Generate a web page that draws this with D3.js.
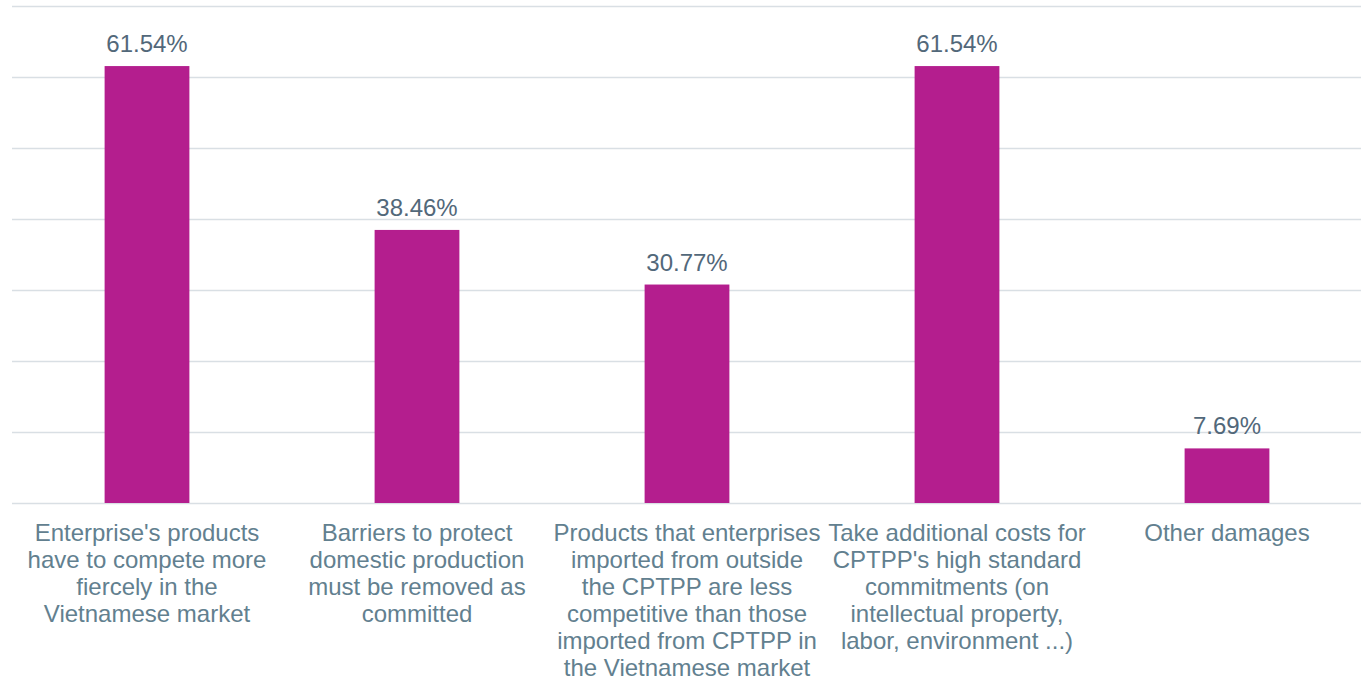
<!DOCTYPE html>
<html>
<head>
<meta charset="utf-8">
<script src="https://cdn.jsdelivr.net/npm/d3@7"></script>
<style>
  html, body { margin: 0; padding: 0; background: #ffffff; }
  svg { display: block; }
  text { font-family: "Liberation Sans", Arial, sans-serif; }
</style>
</head>
<body>
<svg id="chart" width="1361" height="682"></svg>
<script>
// Category labels, broken into display lines
const categories = [
  ["Enterprise's products", "have to compete more", "fiercely in the", "Vietnamese market"],
  ["Barriers to protect", "domestic production", "must be removed as", "committed"],
  ["Products that enterprises", "imported from outside", "the CPTPP are less", "competitive than those", "imported from CPTPP in", "the Vietnamese market"],
  ["Take additional costs for", "CPTPP's high standard", "commitments (on", "intellectual property,", "labor, environment ...)"],
  ["Other damages"]
];
const values = [61.54, 38.46, 30.77, 61.54, 7.69];
const gridTicks = [0, 10, 20, 30, 40, 50, 60, 70];

(function () {
  const svg = d3.select("#chart");
  const plotLeft = 12, plotRight = 1362, plotTop = 6, plotBottom = 503;

  const x = d3.scaleBand()
    .domain(d3.range(values.length))
    .range([plotLeft, plotRight])
    .paddingInner(0.686)
    .paddingOuter(0.343);

  const y = d3.scaleLinear().domain([0, 70]).range([plotBottom, plotTop]);

  // Horizontal gridlines
  svg.append("g")
    .selectAll("line")
    .data(gridTicks)
    .join("line")
    .attr("x1", plotLeft)
    .attr("x2", 1361)
    .attr("y1", d => Math.round(y(d)) + 0.5)
    .attr("y2", d => Math.round(y(d)) + 0.5)
    .attr("stroke", "#d9dfe4")
    .attr("stroke-width", 1.6);

  // Bars
  svg.append("g")
    .selectAll("rect")
    .data(values)
    .join("rect")
    .attr("x", (d, i) => x(i))
    .attr("width", x.bandwidth())
    .attr("y", d => y(d))
    .attr("height", d => plotBottom - y(d))
    .attr("fill", "#b41e8e");

  // Value labels above bars
  svg.append("g")
    .selectAll("text")
    .data(values)
    .join("text")
    .attr("x", (d, i) => x(i) + x.bandwidth() / 2)
    .attr("y", d => y(d) - 14)
    .attr("text-anchor", "middle")
    .attr("font-size", 24)
    .attr("fill", "#52687a")
    .text(d => d.toFixed(2) + "%");

  // Category labels below the axis
  const labels = svg.append("g")
    .selectAll("text")
    .data(categories)
    .join("text")
    .attr("text-anchor", "middle")
    .attr("font-size", 24)
    .attr("fill", "#62808f");

  labels.selectAll("tspan")
    .data((lines, i) => lines.map(l => ({ l, i })))
    .join("tspan")
    .attr("x", d => x(d.i) + x.bandwidth() / 2)
    .attr("y", (d, j) => plotBottom + 38 + j * 27)
    .text(d => d.l);
})();
</script>
</body>
</html>
